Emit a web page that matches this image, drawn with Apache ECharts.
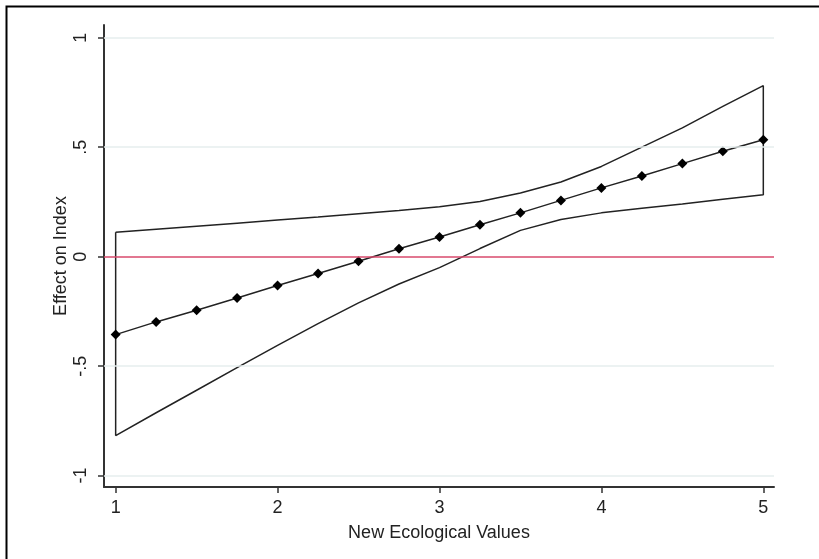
<!DOCTYPE html>
<html>
<head>
<meta charset="utf-8">
<script src="https://cdn.jsdelivr.net/npm/echarts@6/dist/echarts.min.js"></script>
<style>
html,body{margin:0;padding:0;background:#fff;}
#chart{width:819px;height:559px;}
</style>
</head>
<body>
<div id="chart"></div>
<script>
const xValues = [1, 1.25, 1.5, 1.75, 2, 2.25, 2.5, 2.75, 3, 3.25, 3.5, 3.75, 4, 4.25, 4.5, 4.75, 5];
const effect = [-0.356, -0.298, -0.245, -0.189, -0.132, -0.077, -0.021, 0.036, 0.090, 0.146, 0.200, 0.257, 0.314, 0.368, 0.425, 0.481, 0.534];
const upperCI = [0.111, 0.125, 0.139, 0.153, 0.167, 0.181, 0.196, 0.211, 0.228, 0.252, 0.291, 0.341, 0.412, 0.500, 0.588, 0.686, 0.781];
const lowerCI = [-0.817, -0.713, -0.610, -0.507, -0.405, -0.306, -0.211, -0.125, -0.050, 0.037, 0.120, 0.170, 0.200, 0.221, 0.240, 0.262, 0.283];
const xTicks = [1, 2, 3, 4, 5];
const yTicks = [-1, -0.5, 0, 0.5, 1];
const yTickLabels = ['-1', '-.5', '0', '.5', '1'];
const xTitle = 'New Ecological Values';
const yTitle = 'Effect on Index';

const ink = '#222';
const font = 'Liberation Sans, Arial, sans-serif';

// closed outline of the confidence band: upper left->right, lower right->left, back to start
const band = [];
for (let i = 0; i < xValues.length; i++) band.push([xValues[i], upperCI[i]]);
for (let i = xValues.length - 1; i >= 0; i--) band.push([xValues[i], lowerCI[i]]);
band.push([xValues[0], upperCI[0]]);

const pointData = xValues.map((x, i) => [x, effect[i]]);

const chart = echarts.init(document.getElementById('chart'), null, {renderer: 'canvas'});
chart.setOption({
  animation: false,
  backgroundColor: '#fff',
  textStyle: {fontFamily: font},
  grid: {left: 104, right: 45, top: 25, bottom: 72, containLabel: false},
  xAxis: {
    type: 'value',
    min: 0.928, max: 5.066,
    name: xTitle, nameLocation: 'middle', nameGap: 37,
    nameTextStyle: {fontSize: 18, color: ink, fontFamily: font},
    axisLine: {show: true, onZero: false, lineStyle: {color: '#333', width: 2}},
    axisTick: {show: true, customValues: xTicks, length: 6, lineStyle: {color: '#333', width: 1.5}},
    axisLabel: {customValues: xTicks, fontSize: 18, color: ink, margin: 12, fontFamily: font},
    splitLine: {show: false}
  },
  yAxis: {
    type: 'value',
    min: -1.052, max: 1.058,
    name: yTitle, nameLocation: 'middle', nameGap: 34, nameRotate: 90, nameMoveOverlap: false,
    nameTextStyle: {fontSize: 18, color: ink, fontFamily: font},
    axisLine: {show: true, onZero: false, lineStyle: {color: '#333', width: 2}},
    axisTick: {show: true, customValues: yTicks, length: 6, lineStyle: {color: '#333', width: 1.5}},
    axisLabel: {
      customValues: yTicks, fontSize: 18, color: ink, rotate: 90, margin: 14, fontFamily: font,
      formatter: v => { const i = yTicks.indexOf(v); return i >= 0 ? yTickLabels[i] : ''; }
    },
    splitLine: {show: false}
  },
  graphic: [{
    type: 'rect', left: 4, top: 4, z: 100,
    shape: {x: 0, y: 0, width: 900, height: 700},
    style: {fill: 'none', stroke: '#000', lineWidth: 2}
  }],
  series: [
    {
      type: 'line', data: [], silent: true, z: 1,
      markLine: {
        silent: true, symbol: 'none', label: {show: false},
        lineStyle: {color: '#e6eeee', width: 1.5, type: 'solid'},
        data: yTicks.filter(v => v !== 0).map(v => ({yAxis: v}))
      }
    },
    {
      type: 'line', data: [], silent: true, z: 2,
      markLine: {
        silent: true, symbol: 'none', label: {show: false},
        lineStyle: {color: '#d94a6c', width: 1.5, type: 'solid'},
        data: [{yAxis: 0}]
      }
    },
    {
      type: 'line', data: band, z: 3, silent: true,
      showSymbol: false, symbol: 'none',
      lineStyle: {color: ink, width: 1.5}
    },
    {
      type: 'line', data: pointData, z: 4, silent: true,
      symbol: 'diamond', symbolSize: 10, showSymbol: true,
      itemStyle: {color: '#000'},
      lineStyle: {color: ink, width: 1.5}
    }
  ]
});
</script>
</body>
</html>
